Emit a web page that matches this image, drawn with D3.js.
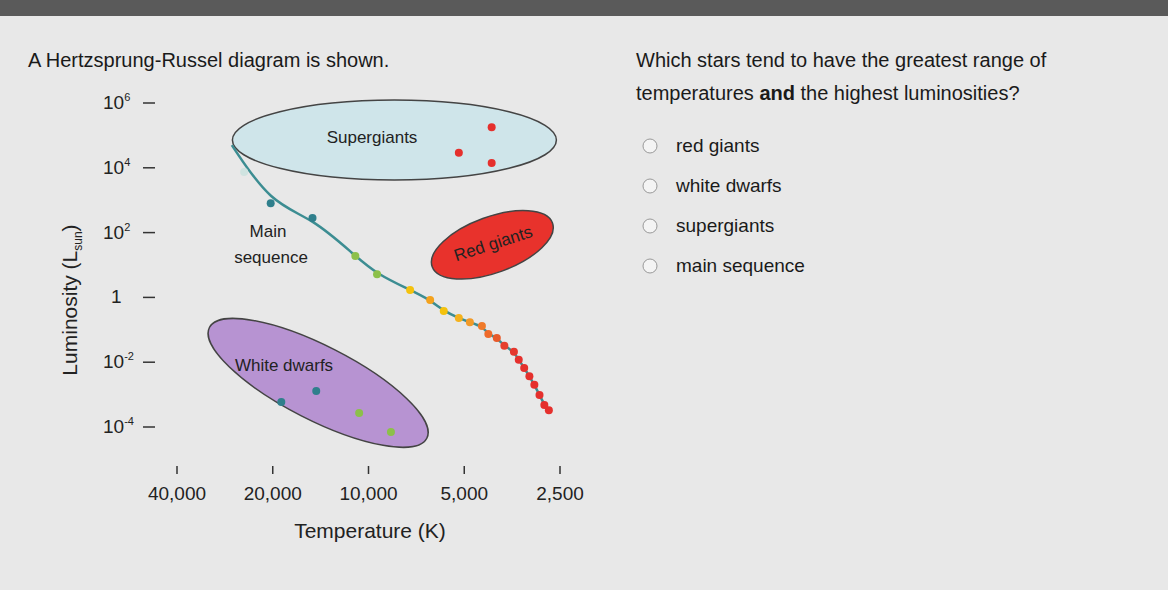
<!DOCTYPE html>
<html><head><meta charset="utf-8">
<script src="https://cdn.jsdelivr.net/npm/d3@7"></script>
<style>body{margin:0;background:#e9e9e9;font-family:"Liberation Sans",Arial,sans-serif}</style>
</head><body>
<script>
var w = 1168, h = 590;
// tick values
var tempTicks = [40000, 20000, 10000, 5000, 2500];
var tempLabels = ["40,000", "20,000", "10,000", "5,000", "2,500"];
var lumTicks = [1e6, 1e4, 1e2, 1, 1e-2, 1e-4];
// main sequence stars (temperature K, luminosity Lsun)
var msTemp = [24600, 20300, 15000, 11000, 9400, 7400, 6400, 5800, 5200, 4800, 4400, 4200, 3950, 3740, 3490, 3370, 3240, 3120, 3010, 2900, 2800, 2710];
var msLum = [7400, 810, 280, 19, 5.2, 1.7, 0.83, 0.38, 0.23, 0.17, 0.13, 0.074, 0.056, 0.032, 0.021, 0.012, 0.0066, 0.0037, 0.002, 0.00098, 0.00048, 0.00033];
var msColor = ["#cfe3e0", "#2f7f8c", "#2f7f8c", "#8cc04a", "#8cc04a", "#f4c20d", "#f4a21d", "#f4c20d", "#f4b21d", "#f29a28", "#ef7a2a", "#ef6a2a", "#e85a2a", "#e5402d", "#e5362d", "#e5302d", "#e5302d", "#e5302d", "#e5302d", "#e5302d", "#e5302d", "#e5302d"];
var sgTemp = [4100, 5200, 4100], sgLum = [180000, 29000, 14000];
var wdTemp = [18800, 14600, 10700, 8500], wdLum = [0.00059, 0.0013, 0.00027, 0.00007];
var wdColor = ["#2f7f8c", "#2f7f8c", "#8cc04a", "#8cc04a"];
var options = ["red giants", "white dwarfs", "supergiants", "main sequence"];

var svg = d3.select("body").append("svg").attr("width", w).attr("height", h);
svg.append("rect").attr("width", w).attr("height", 16).attr("fill", "#5a5a5a");
svg.append("rect").attr("y", 16).attr("width", w).attr("height", h - 16).attr("fill", "#e8e8e8");

var x = d3.scaleLog().domain([40000, 2500]).range([177, 560]);
var y = d3.scaleLog().domain([1e6, 1e-4]).range([103, 427]);

// regions
svg.append("ellipse").attr("cx", x(8290)).attr("cy", y(72000)).attr("rx", 162).attr("ry", 40)
  .attr("fill", "#cfe5ea").attr("stroke", "#444").attr("stroke-width", 1.5);
svg.append("ellipse").attr("transform", "translate(" + x(4080) + "," + y(42) + ") rotate(-20)")
  .attr("rx", 64).attr("ry", 28).attr("fill", "#e8322c").attr("stroke", "#444").attr("stroke-width", 1.5);
svg.append("ellipse").attr("transform", "translate(" + x(14400) + "," + y(0.0023) + ") rotate(27)")
  .attr("rx", 122).attr("ry", 37).attr("fill", "#b793d2").attr("stroke", "#444").attr("stroke-width", 1.5);

// main sequence line
var lineT = [26900].concat(msTemp.slice(1)), lineL = [50000].concat(msLum.slice(1));
svg.append("path").datum(d3.range(lineT.length))
  .attr("d", d3.line().curve(d3.curveBasis).x(function(i){ return x(lineT[i]); }).y(function(i){ return y(lineL[i]); }))
  .attr("fill", "none").attr("stroke", "#3c8d92").attr("stroke-width", 2.5);

function dots(T, L, col){
  svg.selectAll(null).data(d3.range(T.length)).enter().append("circle")
    .attr("cx", function(i){ return x(T[i]); }).attr("cy", function(i){ return y(L[i]); })
    .attr("r", 4).attr("fill", function(i){ return typeof col == "string" ? col : col[i]; });
}
dots(msTemp, msLum, msColor);
dots(sgTemp, sgLum, "#e5302d");
dots(wdTemp, wdLum, wdColor);

// region labels
function label(t, px, py, rot){
  svg.append("text").attr("transform", "translate(" + px + "," + py + ") rotate(" + (rot || 0) + ")")
    .attr("text-anchor", "middle").attr("font-size", 17).attr("fill", "#222").text(t);
}
label("Supergiants", 372, 143);
label("Main", 268, 237); label("sequence", 271, 263);
label("Red giants", 495, 249, -18);
label("White dwarfs", 284, 371);

// axes
svg.append("g").selectAll("line").data(tempTicks).enter().append("line")
  .attr("x1", x).attr("x2", x).attr("y1", 466).attr("y2", 474).attr("stroke", "#333").attr("stroke-width", 1.5);
svg.append("g").selectAll("text").data(tempTicks).enter().append("text")
  .attr("x", x).attr("y", 500).attr("text-anchor", "middle").attr("font-size", 19).attr("fill", "#222")
  .text(function(d, i){ return tempLabels[i]; });
svg.append("g").selectAll("line").data(lumTicks).enter().append("line")
  .attr("x1", 143).attr("x2", 155).attr("y1", y).attr("y2", y).attr("stroke", "#333").attr("stroke-width", 1.5);
var yl = svg.append("g").selectAll("text").data(lumTicks).enter().append("text")
  .attr("x", 103).attr("y", function(d){ return y(d) + 6; }).attr("font-size", 19).attr("fill", "#222");
yl.each(function(d){
  var e = Math.round(Math.log10(d)), t = d3.select(this);
  if (e === 0) { t.attr("x", 111).text("1"); return; }
  t.text("10");
  t.append("tspan").attr("dy", -8).attr("font-size", 11).text(e);
});
svg.append("text").attr("transform", "translate(77,300) rotate(-90)").attr("text-anchor", "middle")
  .attr("font-size", 21).attr("fill", "#222")
  .html('Luminosity (L<tspan dy="5" font-size="12">sun</tspan><tspan dy="-5">)</tspan>');
svg.append("text").attr("x", 370).attr("y", 538).attr("text-anchor", "middle").attr("font-size", 21)
  .attr("fill", "#222").text("Temperature (K)");

// question text
svg.append("text").attr("x", 28).attr("y", 67).attr("font-size", 20).attr("fill", "#1a1a1a")
  .text("A Hertzsprung-Russel diagram is shown.");
svg.append("text").attr("x", 636).attr("y", 67).attr("font-size", 20).attr("fill", "#1a1a1a")
  .text("Which stars tend to have the greatest range of");
svg.append("text").attr("x", 636).attr("y", 100).attr("font-size", 20).attr("fill", "#1a1a1a")
  .html('temperatures <tspan font-weight="bold">and</tspan> the highest luminosities?');
var opt = svg.append("g").selectAll("g").data(options).enter().append("g")
  .attr("transform", function(d, i){ return "translate(650," + (146 + i * 40) + ")"; });
opt.append("circle").attr("r", 7).attr("fill", "#f4f4f4").attr("stroke", "#999");
opt.append("text").attr("x", 26).attr("y", 6).attr("font-size", 19).attr("fill", "#1a1a1a").text(function(d){ return d; });
</script>
</body></html>
